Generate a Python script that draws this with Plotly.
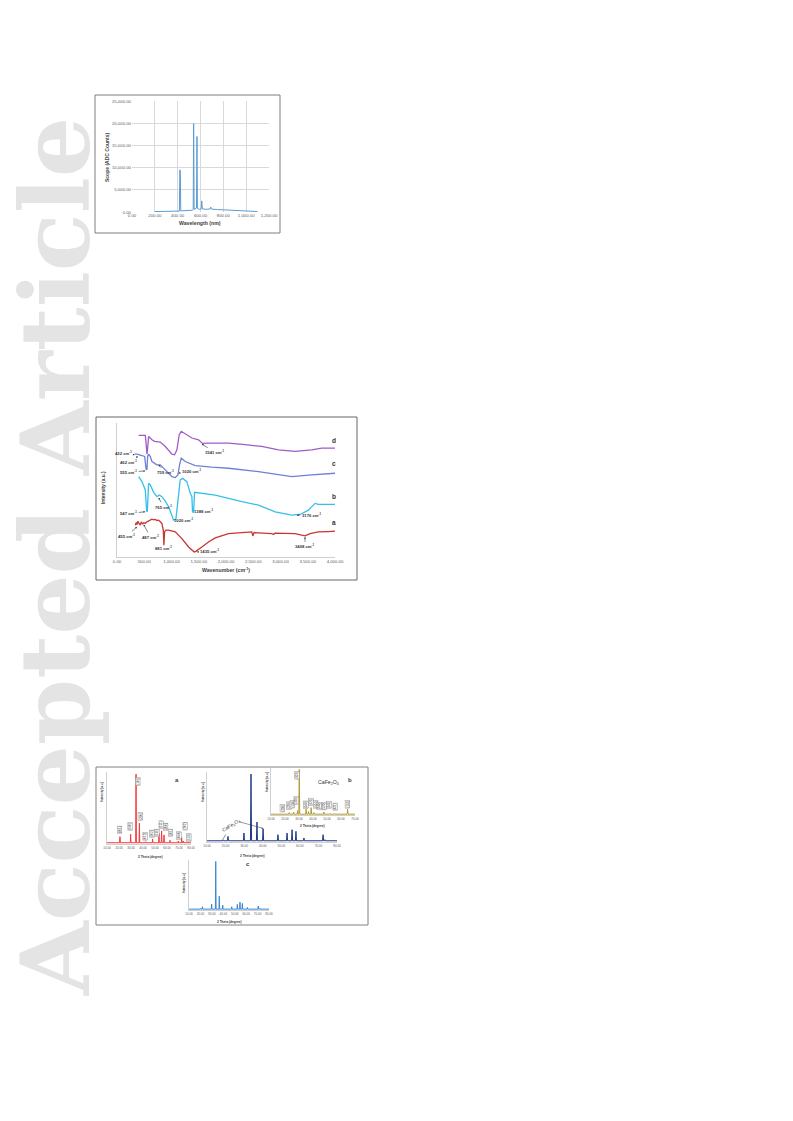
import plotly.graph_objects as go

# page offset: the browser body has an 8px margin
OFF = 8
FW, FH = 793 - OFF, 1121 - OFF

# ---------------- Data ----------------
# Top chart: emission spectrum
spec_wavelength = [200, 300, 400, 415, 419, 423, 427, 470, 480, 490, 530, 536, 540, 544, 560, 565, 569,
                   573, 590, 606, 611, 616, 650, 684, 690, 696, 750, 850, 950, 1050, 1100]
spec_counts = [100, 120, 150, 200, 9500, 9300, 250, 300, 450, 300, 400, 600, 19900, 600, 700, 900, 17000,
               800, 600, 700, 2500, 700, 600, 700, 1100, 650, 550, 400, 300, 200, 100]

# Middle chart: FTIR spectra
ftir_d_wn = [397, 519, 531, 550, 568, 580, 641, 690, 794, 886, 1008, 1057, 1099, 1142, 1179, 1252, 1374,
             1496, 1545, 1569, 1679, 2046, 2351, 2656, 2962, 3267, 3573, 3756, 4000]
ftir_d_int = [90.8, 90.8, 86.3, 76.8, 83.8, 90.0, 87.5, 86.3, 85.8, 82.5, 76.8, 76.3, 80.0, 91.3, 93.8, 91.8,
              88.8, 87.5, 85.8, 84.8, 85.0, 85.0, 83.8, 82.5, 80.0, 78.8, 80.0, 81.3, 81.3]

ftir_c_wn = [324, 366, 458, 507, 525, 537, 550, 562, 580, 611, 641, 733, 794, 855, 947, 1008, 1069, 1118,
             1148, 1179, 1252, 1435, 1740, 2046, 2595, 3206, 3573, 4000]
ftir_c_int = [76.75, 76.75, 75.75, 75.0, 68.75, 65.0, 65.5, 75.0, 76.75, 75.0, 71.25, 68.75, 68.75, 66.25,
              62.5, 60.0, 59.25, 61.25, 68.75, 73.75, 71.25, 68.25, 67.0, 66.25, 63.75, 60.0, 61.25, 62.5]

ftir_b_wn = [397, 458, 519, 531, 544, 556, 568, 580, 611, 672, 733, 776, 824, 886, 947, 995, 1038, 1081,
             1118, 1160, 1203, 1282, 1344, 1374, 1386, 1405, 1423, 1557, 1802, 2290, 2595, 2901, 3206, 3359,
             3512, 3634, 3695, 4000]
ftir_b_int = [60.0, 56.25, 50.0, 40.0, 34.25, 33.75, 46.25, 55.0, 53.75, 48.25, 45.0, 46.25, 45.0, 41.75,
              37.5, 31.25, 27.5, 28.25, 43.75, 57.5, 58.75, 56.25, 47.5, 45.0, 33.75, 33.25, 48.25, 47.5,
              46.25, 41.25, 38.75, 33.75, 31.25, 31.75, 35.0, 40.0, 39.25, 39.25]

ftir_a_wn = [336, 354, 366, 385, 403, 427, 446, 470, 495, 519, 550, 580, 611, 641, 672, 702, 733, 763, 794,
             824, 849, 861, 873, 898, 947, 1069, 1191, 1313, 1417, 1447, 1557, 1679, 1802, 2046, 2290, 2473,
             2492, 2516, 2840, 2870, 2901, 3267, 3389, 3450, 3542, 3695, 3878, 4000]
ftir_a_int = [23.75, 25.75, 24.25, 26.75, 25.0, 23.75, 26.25, 24.75, 25.75, 25.0, 26.25, 26.75, 27.75, 28.25,
              27.75, 28.0, 27.25, 27.5, 26.25, 25.0, 20.0, 8.75, 18.75, 20.0, 20.0, 18.75, 13.75, 7.5, 3.75,
              4.25, 7.5, 11.25, 14.25, 17.5, 18.25, 18.75, 15.75, 18.25, 17.5, 16.75, 17.75, 17.5, 16.25,
              15.75, 17.5, 18.75, 19.0, 19.25]

# FTIR peak labels: text, label position (wn, int), arrow tip (wn, int)
ftir_labels = ["422 cm<sup>-1</sup>", "462 cm<sup>-1</sup>", "555 cm<sup>-1</sup>", "759 cm<sup>-1</sup>",
               "1020 cm<sup>-1</sup>", "1541 cm<sup>-1</sup>", "547 cm<sup>-1</sup>", "765 cm<sup>-1</sup>",
               "1020 cm<sup>-1</sup>", "1388 cm<sup>-1</sup>", "3176 cm<sup>-1</sup>", "455 cm<sup>-1</sup>",
               "487 cm<sup>-1</sup>", "881 cm<sup>-1</sup>", "1435 cm<sup>-1</sup>", "3408 cm<sup>-1</sup>"]
ftir_label_wn = [122, 202, 214, 886, 1374, 1802, 214, 855, 1221, 1588, 3573, 183, 611, 855, 1710, 3450]
ftir_label_int = [77.5, 70.75, 63.25, 63.25, 64.25, 78.25, 32.5, 37.5, 27.5, 34.25, 31.25, 15.75, 15.0, 6.75,
                  4.5, 8.0]
ftir_tip_wn = [324, 385, 519, 763, 1130, 1557, 519, 763, 1057, 1411, 3298, 366, 489, 861, 1466, 3450]
ftir_tip_int = [76.25, 75.0, 64.25, 68.75, 62.5, 84.25, 33.75, 44.25, 28.0, 33.75, 31.25, 22.5, 24.25, 10.0,
                3.75, 15.0]

# Bottom: XRD patterns (2 theta, relative intensity)
xrd_a_pos = [20.8, 29.7, 34.2, 37.0, 42.2, 48.0, 53.3, 55.5, 57.5, 62.5, 69.4, 72.2, 73.6]
xrd_a_int = [10.5, 13.9, 100, 29.7, 3.3, 7.2, 15.3, 18.7, 12.9, 5.3, 4.3, 9.1, 4.3]
xrd_a_hkl = ["(001)", "(100)", "(101)", "(200)", "(012)", "(102)", "(110)", "(111)", "(200)", "(201)",
             "(004)", "(202)", "(113)"]
xrd_a_hkl_pos = [20.8, 29.7, 35.3, 38.1, 41.7, 47.2, 51.4, 55.6, 59.2, 63.3, 70.0, 75.0, 78.3]
xrd_a_hkl_int = [20.1, 24.4, 90.0, 38.8, 11.0, 13.9, 15.3, 27.3, 24.4, 15.8, 12.0, 25.4, 9.1]

xrd_b_pos = [18.6, 21.3, 29.9, 33.7, 36.9, 40.2, 48.2, 53.1, 55.8, 57.9, 62.2, 72.5, 73.5]
xrd_b_int = [3.4, 8.3, 13.2, 100, 29.4, 19.6, 10.8, 13.2, 18.1, 15.7, 5.9, 10.8, 3.4]

xrd_bi_pos = [18.2, 23.0, 26.1, 29.0, 30.2, 35.1, 36.8, 38.7, 40.6, 43.5, 47.8, 52.0, 55.6, 64.7]
xrd_bi_int = [3.2, 5.2, 6.5, 9.7, 100, 12.9, 7.7, 16.1, 5.2, 3.2, 6.5, 3.2, 3.2, 12.9]
xrd_bi_hkl = ["(200)", "(220)", "(130)", "(320)", "(302)", "(040)", "(121)", "(501)", "(240)", "(520)",
              "(241)", "(621)", "(152)"]
xrd_bi_hkl_pos = [18.2, 22.5, 25.4, 28.3, 28.9, 35.1, 38.7, 41.6, 44.2, 47.8, 51.2, 55.6, 64.7]
xrd_bi_hkl_int = [16.1, 19.4, 22.6, 31.0, 88.0, 22.6, 29.0, 23.9, 19.4, 19.4, 21.3, 17.4, 22.6]

xrd_c_pos = [20.2, 21.8, 29.8, 33.4, 36.5, 39.5, 47.4, 52.3, 54.6, 56.7, 61.1, 70.6, 72.1]
xrd_c_int = [3.4, 6.8, 12.2, 100, 28.4, 10.1, 6.8, 11.5, 16.2, 13.5, 5.4, 8.1, 3.4]


# ---------------- helpers ----------------
def fx(p):
    return (p - OFF) / FW


def fy(p):
    return 1 - (p - OFF) / FH


def spikes(pos, ints, lo=10, hi=80, base=1.8, half=0.3):
    xs, ys = [lo], [base]
    for p, v in sorted(zip(pos, ints)):
        xs += [p - half, p, p + half]
        ys += [base, v, base]
    xs.append(hi)
    ys.append(base)
    return xs, ys


FONT = "Liberation Sans, Arial, sans-serif"
TICKC = "#595959"

fig = go.Figure()

# top spectrum
fig.add_trace(go.Scatter(x=spec_wavelength, y=spec_counts, mode="lines",
                         line=dict(color="#5B9BD5", width=1), xaxis="x", yaxis="y"))

# FTIR
for wn, it, col in [(ftir_d_wn, ftir_d_int, "#A05CC6"), (ftir_c_wn, ftir_c_int, "#6D80D4"),
                    (ftir_b_wn, ftir_b_int, "#35BFEB"), (ftir_a_wn, ftir_a_int, "#C9352F")]:
    fig.add_trace(go.Scatter(x=wn, y=it, mode="lines", line=dict(color=col, width=1.3),
                             xaxis="x2", yaxis="y2"))

# XRD
for pos, it, col, xa, ya in [(xrd_a_pos, xrd_a_int, "#F23A3A", "x3", "y3"),
                             (xrd_b_pos, xrd_b_int, "#1F3A85", "x4", "y4"),
                             (xrd_bi_pos, xrd_bi_int, "#B59A2C", "x5", "y5"),
                             (xrd_c_pos, xrd_c_int, "#3B88CF", "x6", "y6")]:
    hi = 70 if xa == "x5" else 80
    xs, ys = spikes(pos, it, hi=hi)
    fig.add_trace(go.Scatter(x=xs, y=ys, mode="lines", line=dict(color=col, width=1),
                             xaxis=xa, yaxis=ya))


def xaxis(dom, rng, dtick, size, anchor, line=False, grid=False, fmt=",.2f"):
    return dict(domain=[fx(dom[0]), fx(dom[1])], range=rng, dtick=dtick, tick0=rng[0], tickformat=fmt,
                tickfont=dict(size=size, color=TICKC, family=FONT), showgrid=grid, gridcolor="#D9D9D9",
                gridwidth=0.6, zeroline=False, showline=line, linecolor="#D0D0D0", linewidth=0.8,
                ticks="", ticklen=0, anchor=anchor, fixedrange=True, automargin=False)


def yaxis(dom, rng, dtick, size, anchor, labels=True, line=False, grid=False, fmt=",.2f"):
    return dict(domain=[fy(dom[0]), fy(dom[1])], range=rng, dtick=dtick, tick0=0, tickformat=fmt,
                tickfont=dict(size=size, color=TICKC, family=FONT), showgrid=grid, gridcolor="#D9D9D9",
                gridwidth=0.6, zeroline=False, showline=line, linecolor="#D0D0D0", linewidth=0.8,
                showticklabels=labels, ticks="", anchor=anchor, fixedrange=True, automargin=False)


layout = dict(
    width=FW, height=FH, autosize=False, margin=dict(l=0, r=0, t=0, b=0),
    paper_bgcolor="white", plot_bgcolor="rgba(0,0,0,0)", showlegend=False,
    font=dict(family=FONT, color="#404040"),
    xaxis=xaxis((132, 269), [0, 1200], 200, 4.3, "y", grid=True),
    yaxis=yaxis((212, 101), [0, 25000], 5000, 4.3, "x", grid=True),
    xaxis2=xaxis((117, 335), [0, 4000], 500, 4.3, "y2", line=True),
    yaxis2=yaxis((557, 423), [0, 100], 20, 4.3, "x2", labels=False, line=True),
    xaxis3=xaxis((107, 191), [10, 80], 10, 3, "y3", line=True),
    yaxis3=yaxis((844, 772), [0, 103], 20, 3, "x3", labels=False, line=True),
    xaxis4=xaxis((207, 337), [10, 80], 10, 3, "y4", line=True),
    yaxis4=yaxis((842, 772), [0, 103], 20, 3, "x4", labels=False, line=True),
    xaxis5=xaxis((271, 355), [10, 70], 10, 3, "y5", line=True),
    yaxis5=yaxis((815, 768), [0, 103], 20, 3, "x5", labels=False, line=True),
    xaxis6=xaxis((189, 269), [10, 80], 10, 3, "y6", line=True),
    yaxis6=yaxis((910, 860), [0, 103], 20, 3, "x6", labels=False, line=True),
)
fig.update_layout(**layout)

ann = []


def ptext(x, y, text, size, angle=0, bold=True, color="#404040", family=FONT):
    t = f"<b>{text}</b>" if bold else text
    ann.append(dict(x=fx(x), y=fy(y), xref="paper", yref="paper", text=t, showarrow=False,
                    textangle=angle, font=dict(size=size, color=color, family=family),
                    xanchor="center", yanchor="middle"))


# Watermark
ann.append(dict(x=fx(55), y=fy(557), xref="paper", yref="paper", text="<b>Accepted Article</b>",
                showarrow=False, textangle=-90,
                font=dict(size=95, color="#E4E4E4", family="DejaVu Serif, serif"),
                xanchor="center", yanchor="middle"))

# top chart titles
ptext(107, 157, "Scope (ADC Counts)", 5, angle=-90)
ptext(200, 223, "Wavelength (nm)", 5.2)

# FTIR titles
ptext(104, 488, "Intensity (a.u.)", 4.8, angle=-90)
ptext(226, 570, "Wavenumber (cm<sup>-1</sup>)", 5.2)
for t, lx, ly, tx, ty in zip(ftir_labels, ftir_label_wn, ftir_label_int, ftir_tip_wn, ftir_tip_int):
    ann.append(dict(x=tx, y=ty, xref="x2", yref="y2", ax=lx, ay=ly, axref="x2", ayref="y2",
                    text=f"<b>{t}</b>", showarrow=True, arrowhead=2, arrowsize=0.6, arrowwidth=0.6,
                    arrowcolor="#333333", standoff=0, startstandoff=0,
                    font=dict(size=4.2, color="#333333", family=FONT)))
for lab, yv in zip(["d", "c", "b", "a"], [83.0, 65.75, 40.75, 21.75]):
    ann.append(dict(x=3985, y=yv, xref="x2", yref="y2", text=f"<b>{lab}</b>", showarrow=False,
                    xanchor="center", yanchor="bottom", font=dict(size=6.5, color="#333333", family=FONT)))

# XRD titles
ptext(102, 792, "Intensity (a.u.)", 3, angle=-90)
ptext(150, 857, "2 Theta (degree)", 3.2)
ptext(203, 792, "Intensity (a.u.)", 3, angle=-90)
ptext(252, 856, "2 Theta (degree)", 3.2)
ptext(267, 782, "Intensity (a.u.)", 3, angle=-90)
ptext(312, 826, "2 Theta (degree)", 3.2)
ptext(184, 883, "Intensity (a.u.)", 3, angle=-90)
ptext(229, 922, "2 Theta (degree)", 3.2)
ptext(177, 780, "a", 6)
ptext(350, 780, "b", 6)
ptext(248, 864, "c", 6)
ptext(328, 782, "CaFe<sub>2</sub>O<sub>4</sub>", 5.2, bold=False, color="#333333")

# CaFe2O4 arrows on main b
ann.append(dict(x=18.6, y=4, xref="x4", yref="y4", ax=8, ay=-14, axref="pixel", ayref="pixel",
                text="CaFe<sub>2</sub>O<sub>4</sub>", textangle=-32, showarrow=True, arrowhead=0,
                arrowwidth=0.5, arrowcolor="#333333", font=dict(size=5, color="#333333", family=FONT)))
ann.append(dict(x=40.2, y=20, xref="x4", yref="y4", ax=-25, ay=-7, axref="pixel", ayref="pixel",
                text="", showarrow=True, arrowhead=2, arrowsize=0.6, arrowwidth=0.5, arrowcolor="#333333"))

# hkl boxes
for t, px_, iv in zip(xrd_a_hkl, xrd_a_hkl_pos, xrd_a_hkl_int):
    ann.append(dict(x=px_, y=iv, xref="x3", yref="y3", text=t, showarrow=False, textangle=-90,
                    font=dict(size=3, color="#333333", family=FONT), bordercolor="#777777",
                    borderwidth=0.4, borderpad=0.3, bgcolor="white"))
for t, px_, iv in zip(xrd_bi_hkl, xrd_bi_hkl_pos, xrd_bi_hkl_int):
    ann.append(dict(x=px_, y=iv, xref="x5", yref="y5", text=t, showarrow=False, textangle=-90,
                    font=dict(size=2.8, color="#333333", family=FONT), bordercolor="#777777",
                    borderwidth=0.4, borderpad=0.3, bgcolor="white"))

fig.update_layout(annotations=ann)

# frames
shapes = []
for (x0, y0, x1, y1, c) in [(95, 95, 280, 233, "#7F7F7F"), (96, 417, 357, 580, "#666666"),
                            (96, 767, 368, 925, "#808080")]:
    shapes.append(dict(type="rect", xref="paper", yref="paper", x0=fx(x0), y0=fy(y0), x1=fx(x1), y1=fy(y1),
                       line=dict(color=c, width=1), fillcolor="rgba(0,0,0,0)"))
fig.update_layout(shapes=shapes)

fig.write_html("out.html")
